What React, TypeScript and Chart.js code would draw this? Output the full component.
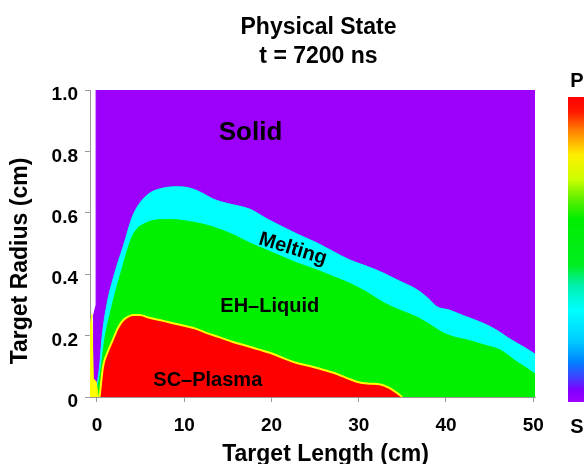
import React, { useEffect, useRef } from "react";
import { Chart, registerables } from "chart.js";

Chart.register(...registerables);

const FONT = '"Liberation Sans", Arial, Helvetica, sans-serif';

// Axis ticks
const xTicks = [0, 10, 20, 30, 40, 50];
const xTickLabels = ["0", "10", "20", "30", "40", "50"];
const yTicks = [0, 0.2, 0.4, 0.6, 0.8, 1.0];
const yTickLabels = ["0", "0.2", "0.4", "0.6", "0.8", "1.0"];

// Phase regions (upper boundary of each phase, radius vs. length)
const solidX = [-0.45, -0.1, -0.1, 50.2];
const solidY = [0.26, 0.3, 1.0, 1.0];

const meltX = [0.0, 0.3, 0.6, 1.2, 2.0, 3.0, 4.1, 5.0, 6.1, 7.5, 9.2, 10.7, 12, 13.3, 15, 17.5, 19.5, 21.3, 23, 25.2, 27, 29, 31, 32.8, 34.5, 36.7, 38, 38.9, 40.4, 42, 44.2, 45.8, 47, 48.1, 49.2, 50.2];
const meltY = [0.04, 0.1, 0.2, 0.31, 0.4, 0.49, 0.59, 0.635, 0.665, 0.68, 0.685, 0.68, 0.665, 0.645, 0.63, 0.612, 0.58, 0.554, 0.53, 0.502, 0.475, 0.446, 0.425, 0.404, 0.38, 0.349, 0.32, 0.295, 0.283, 0.265, 0.241, 0.218, 0.195, 0.176, 0.158, 0.14];

const liquidX = [0.0, 0.4, 0.9, 1.5, 2.2, 2.9, 3.4, 4.0, 4.6, 5.5, 6.9, 8.5, 9.5, 11.5, 13.3, 15.5, 17.5, 19.5, 21.3, 23, 25.2, 27, 29, 31, 32.8, 34.8, 36.7, 38.2, 39.6, 41, 42.4, 44.3, 46.2, 48.1, 49.2, 50.2];
const liquidY = [0.02, 0.08, 0.19, 0.27, 0.35, 0.42, 0.47, 0.52, 0.548, 0.565, 0.577, 0.578, 0.576, 0.567, 0.554, 0.53, 0.502, 0.478, 0.456, 0.436, 0.414, 0.393, 0.37, 0.34, 0.308, 0.282, 0.26, 0.235, 0.21, 0.195, 0.186, 0.17, 0.153, 0.115, 0.095, 0.075];

const plasmaX = [0.3, 0.45, 0.7, 1.2, 1.8, 2.4, 3.0, 3.6, 4.1, 4.9, 6, 7.6, 8.7, 10, 11.4, 12.6, 14, 15.5, 17, 18.5, 20.2, 21.5, 23, 24.5, 26, 27.5, 29, 30, 31, 32.5, 33.5, 34.3, 35];
const plasmaY = [0.0, 0.04, 0.1, 0.145, 0.185, 0.225, 0.25, 0.262, 0.267, 0.267, 0.258, 0.248, 0.24, 0.232, 0.222, 0.208, 0.195, 0.18, 0.168, 0.155, 0.14, 0.125, 0.11, 0.1, 0.088, 0.075, 0.058, 0.048, 0.044, 0.041, 0.03, 0.015, 0.0];

const spikeX = [-0.8, -0.6, -0.42, -0.1, 0.15];
const spikeY = [0.22, 0.27, 0.06, 0.05, 0.0];

const regionLabels = [
  { text: "Solid", x: 17.6, y: 0.86, size: 26, angle: 0 },
  { text: "Melting", x: 22.45, y: 0.482, size: 20, angle: 17 },
  { text: "EH\u2013Liquid", x: 19.8, y: 0.295, size: 20, angle: 0 },
  { text: "SC\u2013Plasma", x: 12.7, y: 0.054, size: 20, angle: 0 },
];

const titleLines = ["Physical State", "t = 7200 ns"];
const xTitle = "Target Length (cm)";
const yTitle = "Target Radius (cm)";
const colorbarTop = "P";
const colorbarBottom = "S";

const COLORS = {
  solid: "#9c00fb",
  melt: "#00ffff",
  liquid: "#00f000",
  plasma: "#ff0000",
  edge: "#ffff00",
};

const pts = (xs: number[], ys: number[]) => xs.map((x, i) => ({ x, y: ys[i] }));

const textPlugin = {
  id: "phaseTexts",
  afterDatasetsDraw(chart: any) {
    const { ctx, scales } = chart;
    const xs = scales.x;
    const ys = scales.y;
    ctx.save();
    ctx.fillStyle = "#000";
    ctx.textAlign = "center";
    ctx.textBaseline = "middle";
    regionLabels.forEach((l) => {
      ctx.save();
      ctx.font = `bold ${l.size}px ${FONT}`;
      ctx.translate(xs.getPixelForValue(l.x), ys.getPixelForValue(l.y));
      ctx.rotate((l.angle * Math.PI) / 180);
      ctx.fillText(l.text, 0, 0);
      ctx.restore();
    });
    ctx.restore();
  },
  afterDraw(chart: any) {
    const { ctx, chartArea } = chart;
    ctx.save();
    ctx.fillStyle = "#000";
    ctx.textAlign = "center";
    ctx.textBaseline = "alphabetic";
    // title
    ctx.font = `bold 23px ${FONT}`;
    const cx = (chartArea.left + chartArea.right) / 2 + 6;
    ctx.fillText(titleLines[0], cx, 34);
    ctx.fillText(titleLines[1], cx, 63);
    // x title
    ctx.fillText(xTitle, cx + 7, 461);
    // y title
    ctx.save();
    ctx.translate(27, 261);
    ctx.rotate(-Math.PI / 2);
    ctx.fillText(yTitle, 0, 0);
    ctx.restore();
    // colorbar
    const top = 97;
    const bottom = 402;
    const g = ctx.createLinearGradient(0, top, 0, bottom);
    g.addColorStop(0.0, "#ff0000");
    g.addColorStop(0.05, "#ff1a00");
    g.addColorStop(0.11, "#ff8000");
    g.addColorStop(0.19, "#ffee00");
    g.addColorStop(0.27, "#ccff00");
    g.addColorStop(0.33, "#66f000");
    g.addColorStop(0.4, "#00ee00");
    g.addColorStop(0.55, "#00ee20");
    g.addColorStop(0.62, "#00f0b0");
    g.addColorStop(0.7, "#00ffff");
    g.addColorStop(0.8, "#00ccff");
    g.addColorStop(0.87, "#0080ff");
    g.addColorStop(0.92, "#4040ff");
    g.addColorStop(0.96, "#8000ff");
    g.addColorStop(1.0, "#a000ff");
    ctx.fillStyle = g;
    ctx.fillRect(568, top, 16, bottom - top);
    ctx.fillStyle = "#000";
    ctx.font = `bold 20px ${FONT}`;
    ctx.fillText(colorbarTop, 577, 87);
    ctx.fillText(colorbarBottom, 577, 433);
    ctx.restore();
  },
};

export default function App() {
  const ref = useRef<HTMLCanvasElement | null>(null);
  useEffect(() => {
    if (!ref.current) return;
    const base = { showLine: true, pointRadius: 0, fill: "origin", borderWidth: 1 };
    const chart = new Chart(ref.current, {
      type: "scatter",
      data: {
        datasets: [
          { ...base, label: "edge", data: pts(spikeX, spikeY), backgroundColor: COLORS.edge, borderColor: COLORS.edge, tension: 0 },
          { ...base, label: "SC-Plasma", data: pts(plasmaX, plasmaY), backgroundColor: COLORS.plasma, borderColor: COLORS.edge, borderWidth: 2, cubicInterpolationMode: "monotone" },
          { ...base, label: "EH-Liquid", data: pts(liquidX, liquidY), backgroundColor: COLORS.liquid, borderColor: COLORS.liquid, cubicInterpolationMode: "monotone" },
          { ...base, label: "Melting", data: pts(meltX, meltY), backgroundColor: COLORS.melt, borderColor: COLORS.melt, cubicInterpolationMode: "monotone" },
          { ...base, label: "Solid", data: pts(solidX, solidY), backgroundColor: COLORS.solid, borderColor: COLORS.solid, tension: 0 },
        ] as any,
      },
      options: {
        animation: false,
        responsive: false,
        events: [],
        layout: { padding: { left: 0, right: 49, top: 90, bottom: 0 } },
        plugins: { legend: { display: false }, tooltip: { enabled: false }, title: { display: false } },
        scales: {
          x: {
            type: "linear",
            min: -0.8,
            max: 50.2,
            afterFit: (s: any) => { s.height = 67; },
            afterBuildTicks: (s: any) => { s.ticks = xTicks.map((v) => ({ value: v })); },
            ticks: {
              color: "#000",
              font: { family: FONT, size: 19, weight: "bold" },
              padding: 12,
              maxRotation: 0,
              callback: (v: any) => { const i = xTicks.indexOf(Number(v)); return i >= 0 ? xTickLabels[i] : ""; },
            },
            grid: { drawOnChartArea: false, color: "#999", tickLength: 5 },
            border: { color: "#999", width: 1 },
          },
          y: {
            type: "linear",
            min: 0,
            max: 1,
            afterFit: (s: any) => { s.width = 90; },
            afterBuildTicks: (s: any) => { s.ticks = yTicks.map((v) => ({ value: v })); },
            ticks: {
              color: "#000",
              font: { family: FONT, size: 19, weight: "bold" },
              padding: 7,
              labelOffset: 5,
              callback: (v: any) => { const i = yTicks.findIndex((t) => Math.abs(t - Number(v)) < 1e-6); return i >= 0 ? yTickLabels[i] : ""; },
            },
            grid: { drawOnChartArea: false, color: "#999", tickLength: 5 },
            border: { color: "#999", width: 1 },
          },
        },
      } as any,
      plugins: [textPlugin],
    });
    return () => chart.destroy();
  }, []);
  return (
    <div style={{ position: "fixed", left: 0, top: 0, width: 584, height: 464, background: "#fff" }}>
      <canvas ref={ref} width={584} height={464} style={{ width: 584, height: 464, display: "block" }} />
    </div>
  );
}
